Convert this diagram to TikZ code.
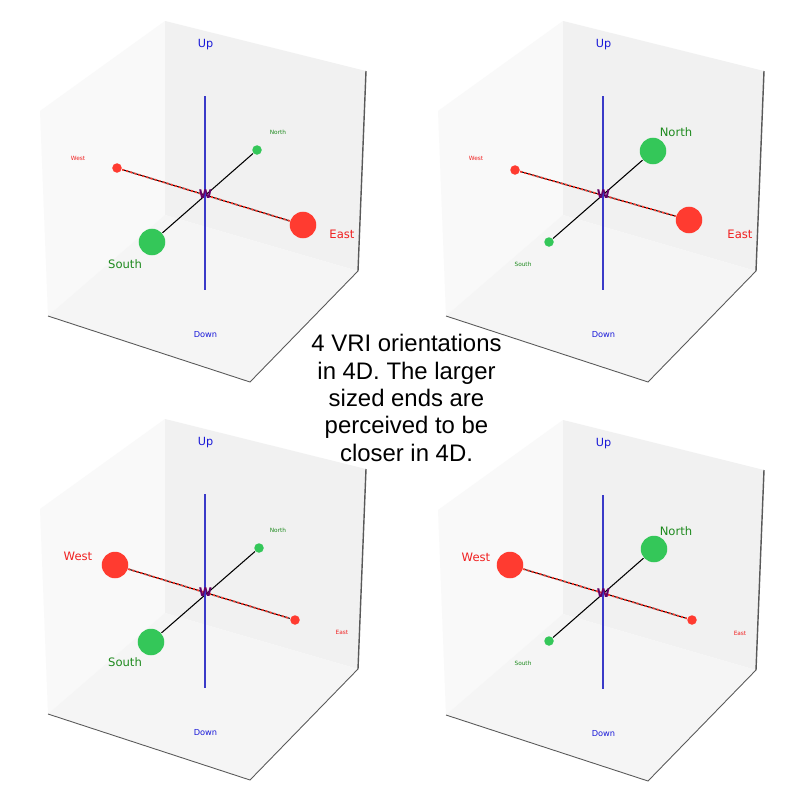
\documentclass[tikz,border=0pt]{standalone}
\usepackage{fontspec}
\setmainfont{DejaVu Sans}
\newfontfamily\captionfont{Liberation Sans}
\definecolor{vrired}{HTML}{FF3B30}
\definecolor{vrigreen}{HTML}{34C759}
\definecolor{labgreen}{HTML}{1E8A1E}
\definecolor{labred}{HTML}{F02020}
\definecolor{labblue}{HTML}{1818D8}
\definecolor{axisblue}{HTML}{3A3AC8}
\definecolor{wallleft}{HTML}{F9F9F9}
\definecolor{wallright}{HTML}{F1F1F1}
\definecolor{wallfloor}{HTML}{F5F5F5}
\tikzset{
  endnear/.style = {circle, inner sep = 0, minimum size = 0.265cm},
  endfar/.style = {circle, inner sep = 0, minimum size = 0.095cm},
  labnear/.style = {font = \fontsize{3.3}{4}\selectfont},
  labfar/.style = {font = \fontsize{1.65}{2}\selectfont},
}
\begin{document}
\begin{tikzpicture}[x = 0.01cm, y = -0.01cm]
\useasboundingbox (0,0) rectangle (799,800);
\fill[white] (0,0) rectangle (799,800);
\foreach \px/\py/\wx/\wy/\ws/\ex/\ey/\es/\nx/\ny/\ns/\sx/\sy/\ss in {
  0/0/117/168/far/303/225/near/257/150/far/152/242/near,
  398/0/117/170/far/291/220/near/255/151/near/151/242/far,
  0/398/115/167/near/295/222/far/259/150/far/151/244/near,
  398/399/112/166/near/294/221/far/256/150/near/151/242/far}
{
\begin{scope}[shift = {(\px,\py)}]
\fill[wallleft] (40,111) -- (165,21) -- (165,215) -- (48,316) -- cycle;
\fill[wallright] (165,21) -- (366,71) -- (358,271) -- (165,215) -- cycle;
\fill[wallfloor] (165,215) -- (358,271) -- (250,382) -- (48,316) -- cycle;
\draw[black!65, line width = 0.25pt] (48,316) -- (250,382) -- (358,271);
\draw[black!65, line width = 0.4pt] (358,271) -- (366,71);
\coordinate (axisUp) at (205.2,96);
\coordinate (axisDown) at (205.2,290);
\node[end\ws, fill = vrired] (endW) at (\wx,\wy) {};
\node[end\es, fill = vrired] (endE) at (\ex,\ey) {};
\node[end\ns, fill = vrigreen] (endN) at (\nx,\ny) {};
\node[end\ss, fill = vrigreen] (endS) at (\sx,\sy) {};
\draw[black, line width = 0.3pt] (endW) -- (endE);
\draw[vrired, line width = 0.5pt, dash pattern = on 0.6pt off 0.6pt] (endW) -- (endE);
\draw[black, line width = 0.3pt] (endS) -- (endN);
\draw[axisblue, line width = 0.45pt] (axisUp) -- (axisDown);
\node[text = labred, lab\ws] (labW) at (78,158.5) {West};
\node[text = labred, lab\es] (labE) at (342,234.5) {East};
\node[text = labgreen, lab\ns] (labN) at (278,132.5) {North};
\node[text = labgreen, lab\ss] (labS) at (125,264.5) {South};
\node[text = labblue, font = \fontsize{3.2}{4}\selectfont] (labUp) at (205.5,45) {Up};
\node[text = labblue, font = \fontsize{2.35}{3}\selectfont] (labDown) at (205.5,335) {Down};
\node[text = violet!80!black, font = \bfseries\fontsize{3.4}{4}\selectfont, inner sep = 0] (centerW) at (205.5,194.5) {W};
\end{scope}
}
\node[font = \captionfont\fontsize{6.8}{7.77}\selectfont, align = center, inner sep = 0] (captionText) at (406.5,398)
{4 VRI orientations\\in 4D. The larger\\sized ends are\\perceived to be\\closer in 4D.};
\end{tikzpicture}
\end{document}
